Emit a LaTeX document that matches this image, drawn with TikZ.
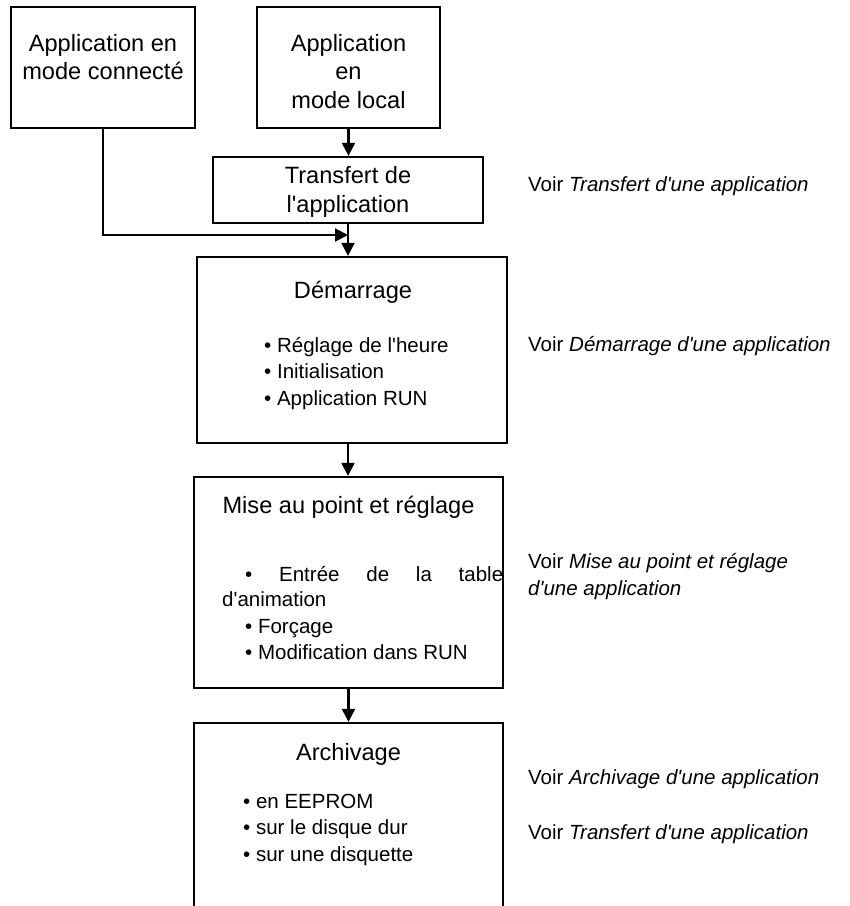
\documentclass[tikz,border=0pt]{standalone}
\usepackage{fontspec}
\setmainfont{Liberation Sans}[Ligatures=TeXOff]
\usetikzlibrary{arrows.meta}

\begin{document}
\begin{tikzpicture}[x=1pt,y=-1pt,
  box/.style={draw, line width=2.3pt, inner sep=0pt},
  link/.style={line width=2.2pt, -{Triangle[length=13pt,width=13pt]}},
  ttl/.style={inner sep=0pt, anchor=base, align=center,
    font=\fontsize{23.6}{28.5}\selectfont},
  itm/.style={inner sep=0pt, anchor=base west, align=left,
    font=\fontsize{20.5}{26.7}\selectfont},
  note/.style={inner sep=0pt, anchor=base west, align=left,
    font=\fontsize{20.5}{27}\selectfont},
]
\useasboundingbox (0,0) rectangle (850,906);
\clip (0,0) rectangle (850,906);

% process boxes
\node[box, minimum width=184pt, minimum height=121pt] (conn)   at (103,67.5) {};
\node[box, minimum width=183pt, minimum height=121pt] (local)  at (348.5,67.5) {};
\node[box, minimum width=270pt, minimum height=66pt]  (transf) at (348,190) {};
\node[box, minimum width=310pt, minimum height=186pt] (demar)  at (352,350) {};
\node[box, minimum width=309pt, minimum height=211pt] (mise)   at (348.5,582.5) {};
\node[box, minimum width=309pt, minimum height=220pt] (arch)   at (348.5,833) {};

% box texts (multi-line nodes sit on the baseline of their last line)
\node[ttl] (conn-t)   at (103,79.5)  {Application en\\mode connecté};
\node[ttl] (local-t)  at (348.5,108) {Application\\en\\mode local};
\node[ttl] (transf-t) at (348,212)   {Transfert de\\l'application};
\node[ttl] (demar-t)  at (353,298)   {Démarrage};
\node[itm] (demar-i)  at (264,405.4) {• Réglage de l'heure\\• Initialisation\\• Application RUN};
\node[ttl] (mise-t)   at (348.5,513) {Mise au point et réglage};
\node[itm] (mise-i1)  at (245,581)   {\makebox[258pt][s]{• Entrée de la table}};
\node[itm] (mise-i2)  at (222,606)   {d'animation};
\node[itm] (mise-i3)  at (245,659.7) {• Forçage\\• Modification dans RUN};
\node[ttl] (arch-t)   at (348.5,760) {Archivage};
\node[itm] (arch-i)   at (243,861.4) {• en EEPROM\\• sur le disque dur\\• sur une disquette};

% cross references
\node[note] (n-transf) at (528,191) {Voir \textit{Transfert d'une application}};
\node[note] (n-demar)  at (528,351) {Voir \textit{Démarrage d'une application}};
\node[note] (n-mise)   at (528,595) {Voir \textit{Mise au point et réglage}\\\textit{d'une application}};
\node[note] (n-arch)   at (528,784) {Voir \textit{Archivage d'une application}};
\node[note] (n-copy)   at (528,839) {Voir \textit{Transfert d'une application}};

% connectors
\coordinate (join) at (348,235);
\draw[link] (local.south) -- (local.south |- transf.north);
\draw[link] (conn.south) |- (join);
\draw[link] (transf.south) -- (transf.south |- demar.north);
\draw[link] (transf.south |- demar.south) -- (transf.south |- mise.north);
\draw[link] (mise.south) -- (mise.south |- arch.north);
\end{tikzpicture}
\end{document}
